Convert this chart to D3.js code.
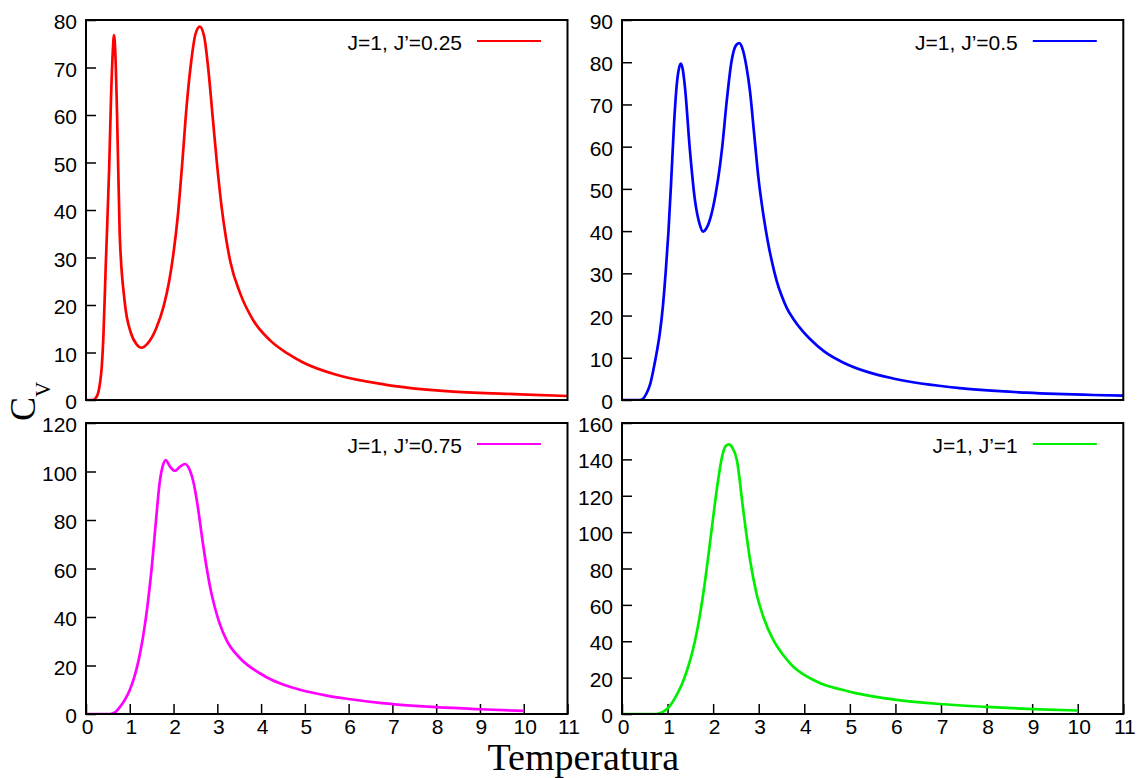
<!DOCTYPE html>
<html>
<head>
<meta charset="utf-8">
<script src="https://cdn.jsdelivr.net/npm/d3@7"></script>
<style>
  html, body { margin: 0; padding: 0; background: #ffffff; }
  svg { display: block; }
</style>
</head>
<body>
<svg id="chart" width="1143" height="778"></svg>
<script>
// ---------- DATA ----------
const xTicks = [0, 1, 2, 3, 4, 5, 6, 7, 8, 9, 10, 11];

const labelA = "J=1, J\u2019=0.25";
const tempA = [0, 0.16, 0.25, 0.32, 0.36, 0.40, 0.45, 0.53, 0.57, 0.61, 0.64, 0.67, 0.71, 0.77, 0.88, 1.03, 1.15, 1.27, 1.40, 1.60, 1.77, 1.90, 2.00, 2.10, 2.20, 2.30, 2.40, 2.50, 2.60, 2.70, 2.79, 2.90, 3.00, 3.10, 3.20, 3.30, 3.52, 3.82, 4.20, 4.60, 4.96, 5.72, 6.86, 8.39, 9.91, 11.0];
const cvA   = [0, 0, 0.8, 3.6, 7, 14, 28, 49, 63, 73, 76.8, 73, 60, 35, 21, 14, 11.8, 11.0, 11.8, 15, 19.6, 25, 31, 39, 50, 62, 71, 77, 78.6, 76.5, 70, 59, 49, 40.5, 34, 29, 22.5, 16.8, 12.6, 9.8, 7.9, 5.3, 3.2, 1.75, 1.19, 0.84];
const yTicksA = [0, 10, 20, 30, 40, 50, 60, 70, 80];

const labelB = "J=1, J\u2019=0.5";
const tempB = [0, 0.39, 0.46, 0.54, 0.62, 0.69, 0.76, 0.83, 0.90, 0.96, 1.02, 1.08, 1.14, 1.20, 1.25, 1.29, 1.33, 1.38, 1.49, 1.60, 1.70, 1.78, 1.86, 1.95, 2.05, 2.15, 2.20, 2.30, 2.40, 2.50, 2.57, 2.65, 2.73, 2.81, 2.90, 3.00, 3.10, 3.20, 3.30, 3.40, 3.50, 3.62, 3.76, 3.95, 4.12, 4.45, 4.85, 5.40, 5.95, 7.41, 8.87, 10.34, 11.0];
const cvB   = [0, 0, 0.3, 1.6, 3.8, 7.2, 11.2, 15.8, 22.5, 30.5, 40, 52, 65, 74.5, 78.5, 79.7, 78.5, 74.2, 59.2, 47.4, 41.8, 39.9, 40.8, 43.5, 48.5, 55.5, 60, 71, 80, 84, 84.5, 83, 79, 73, 63, 52, 44, 37.5, 32.3, 28.0, 24.8, 21.7, 19.2, 16.5, 14.5, 11.4, 8.9, 6.6, 5.1, 2.8, 1.74, 1.18, 1.03];
const yTicksB = [0, 10, 20, 30, 40, 50, 60, 70, 80, 90];

const labelC = "J=1, J\u2019=0.75";
const tempC = [0, 0.55, 0.65, 0.78, 0.90, 1.0, 1.10, 1.20, 1.30, 1.40, 1.50, 1.60, 1.68, 1.75, 1.82, 1.92, 2.03, 2.15, 2.26, 2.37, 2.45, 2.55, 2.65, 2.75, 2.85, 2.95, 3.05, 3.21, 3.52, 3.97, 4.25, 4.50, 4.89, 5.50, 6.0, 6.71, 8.0, 9.0, 10.0];
const cvC   = [0, 0, 0.5, 3.0, 6.2, 9.9, 15, 22, 31.5, 44, 60, 80, 95, 102, 104.7, 102, 100.3, 102, 103.1, 100.6, 96, 86, 73, 61, 51, 43.5, 37.5, 30.5, 23.0, 16.8, 14.0, 12.2, 10.0, 7.6, 6.2, 4.6, 2.8, 1.95, 1.3];
const yTicksC = [0, 20, 40, 60, 80, 100, 120];

const labelD = "J=1, J\u2019=1";
const tempD = [0, 0.72, 0.80, 0.90, 1.0, 1.1, 1.2, 1.3, 1.4, 1.5, 1.6, 1.7, 1.8, 1.9, 2.0, 2.1, 2.2, 2.28, 2.35, 2.42, 2.52, 2.66, 2.81, 2.95, 3.10, 3.32, 3.55, 3.76, 4.0, 4.20, 4.50, 4.71, 5.1, 5.5, 6.02, 6.97, 7.99, 9.02, 10.0];
const cvD   = [0, 0, 0.3, 1.2, 3.0, 6.2, 10.5, 15.5, 22, 30, 40, 53, 69, 88, 108, 127, 142, 147.5, 148.3, 146.5, 139.7, 112.2, 84.7, 66.4, 53.5, 40.7, 32, 26, 21.5, 18.7, 15.5, 14.1, 11.6, 9.7, 7.8, 5.5, 3.9, 2.7, 1.9];
const yTicksD = [0, 20, 40, 60, 80, 100, 120, 140, 160];

const colors = ["#ff0000", "#0000ff", "#ff00ff", "#00ee00"];
const xLabel = "Temperatura";
const yLabelMain = "C";
const yLabelSub = "V";

// ---------- LAYOUT ----------
const panels = [
  { temp: tempA, cv: cvA, yTicks: yTicksA, label: labelA, color: colors[0], left: 86,  right: 567.5,  top: 20,  bottom: 400, showX: false },
  { temp: tempB, cv: cvB, yTicks: yTicksB, label: labelB, color: colors[1], left: 622, right: 1123.3, top: 20,  bottom: 400, showX: false },
  { temp: tempC, cv: cvC, yTicks: yTicksC, label: labelC, color: colors[2], left: 86,  right: 567.5,  top: 423, bottom: 714, showX: true },
  { temp: tempD, cv: cvD, yTicks: yTicksD, label: labelD, color: colors[3], left: 622, right: 1123.3, top: 423, bottom: 714, showX: true }
];

const svg = d3.select("#chart");
const tickFont = "'Liberation Sans', Arial, Helvetica, sans-serif";
const serifFont = "'Liberation Serif', 'Times New Roman', serif";

panels.forEach((p, i) => {
  const x = d3.scaleLinear().domain([xTicks[0], xTicks[xTicks.length - 1]]).range([p.left, p.right]);
  const y = d3.scaleLinear().domain([p.yTicks[0], p.yTicks[p.yTicks.length - 1]]).range([p.bottom, p.top]);

  const clipId = "clip" + i;
  svg.append("clipPath").attr("id", clipId)
    .append("rect")
    .attr("x", p.left).attr("y", p.top)
    .attr("width", p.right - p.left).attr("height", p.bottom - p.top);

  // y axis (ticks inward, labels left)
  const yAxis = d3.axisRight(y).tickValues(p.yTicks).tickSize(10).tickFormat("");
  const gy = svg.append("g").attr("transform", `translate(${p.left},0)`).call(yAxis);
  gy.select(".domain").remove();
  gy.selectAll(".tick line").attr("stroke", "#000").attr("stroke-width", 1.5);

  svg.append("g").selectAll("text").data(p.yTicks).join("text")
    .attr("x", p.left - 9)
    .attr("y", d => y(d))
    .attr("dy", "0.43em")
    .attr("text-anchor", "end")
    .attr("font-family", tickFont)
    .attr("font-size", 21)
    .attr("fill", "#000")
    .text(d => d);

  if (p.showX) {
    const xAxis = d3.axisTop(x).tickValues(xTicks).tickSize(10).tickFormat("");
    const gx = svg.append("g").attr("transform", `translate(0,${p.bottom})`).call(xAxis);
    gx.select(".domain").remove();
    gx.selectAll(".tick line").attr("stroke", "#000").attr("stroke-width", 1.5);

    svg.append("g").selectAll("text").data(xTicks).join("text")
      .attr("x", d => x(d) + 1.5)
      .attr("y", p.bottom + 19.5)
      .attr("text-anchor", "middle")
      .attr("font-family", tickFont)
      .attr("font-size", 21)
      .attr("fill", "#000")
      .text(d => d);
  }

  // curve
  const pts = p.temp.map((t, k) => [t, p.cv[k]]);
  const line = d3.line().x(d => x(d[0])).y(d => y(d[1])).curve(d3.curveMonotoneX);
  svg.append("path")
    .datum(pts)
    .attr("clip-path", `url(#${clipId})`)
    .attr("fill", "none")
    .attr("stroke", p.color)
    .attr("stroke-width", 2.7)
    .attr("stroke-linejoin", "round")
    .attr("d", line);

  // frame
  svg.append("rect")
    .attr("x", p.left).attr("y", p.top)
    .attr("width", p.right - p.left).attr("height", p.bottom - p.top)
    .attr("fill", "none").attr("stroke", "#000").attr("stroke-width", 2);

  // legend
  const lineEnd = p.right - 26.5;
  const lineStart = lineEnd - 64;
  const ly = p.top + 21;
  svg.append("line")
    .attr("x1", lineStart).attr("x2", lineEnd)
    .attr("y1", ly).attr("y2", ly)
    .attr("stroke", p.color).attr("stroke-width", 2.2);
  svg.append("text")
    .attr("x", lineStart - 15)
    .attr("y", ly + 8.5)
    .attr("text-anchor", "end")
    .attr("font-family", tickFont)
    .attr("font-size", 21)
    .attr("fill", "#000")
    .text(p.label);
});

// y label C_V
const yl = svg.append("text")
  .attr("transform", "translate(35,401.5) rotate(-90)")
  .attr("text-anchor", "middle")
  .attr("font-family", serifFont)
  .attr("fill", "#000");
yl.append("tspan").attr("font-size", 36).text(yLabelMain);
yl.append("tspan").attr("font-size", 21).attr("dy", 15).text(yLabelSub);

// x label
svg.append("text")
  .attr("x", 583.3)
  .attr("y", 770)
  .attr("text-anchor", "middle")
  .attr("font-family", serifFont)
  .attr("font-size", 38)
  .attr("fill", "#000")
  .text(xLabel);
</script>
</body>
</html>
